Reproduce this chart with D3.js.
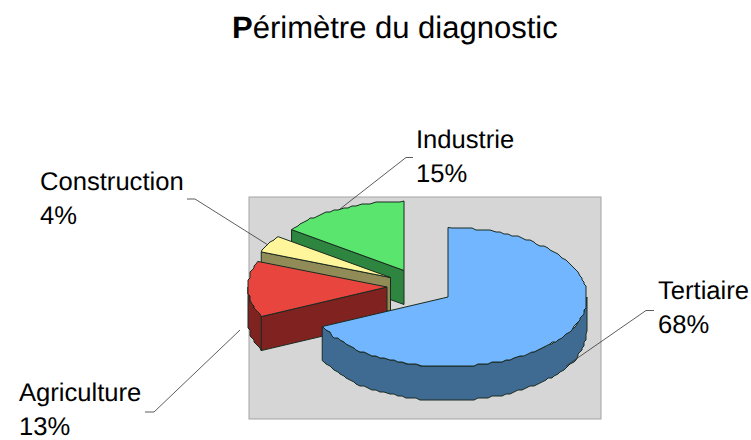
<!DOCTYPE html>
<html><head><meta charset="utf-8">
<script src="https://cdn.jsdelivr.net/npm/d3@7"></script>
<style>html,body{margin:0;background:#fff}svg{display:block}text{font-family:"Liberation Sans",Arial,sans-serif;fill:#000;text-rendering:geometricPrecision}</style>
</head><body><svg id="c" width="751" height="440"></svg>
<script>
const categories = ["Tertiaire","Agriculture","Construction","Industrie"];
const values = [68,13,4,15];
const topColors = ["#72b6ff","#e8453f","#fff59a","#5ae66e"];
const sideColors = ["#3f6b93","#802220","#918b57","#2e8540"];
const centers = [[448,297],[387,287],[390.5,277.5],[404,270.5]];
const labelPos = [[658,298.5],[19,400.5],[40,190],[416,148]];
const leaders = [
  [[566,366],[646,310.5],[654,310.5]],
  [[240,330],[154,412],[145,412]],
  [[268,245],[195,199],[187,199]],
  [[340,209],[406,157.5],[413,157.5]]
];
const RX=139, RY=69.5, DEPTH=34;
const svg=d3.select("#c");
const title=svg.append("text").attr("x",232).attr("y",37.5).attr("font-size",31);
title.append("tspan").attr("font-weight","bold").text("P");
title.append("tspan").text("érimètre du diagnostic");
svg.append("rect").attr("x",249).attr("y",197).attr("width",352).attr("height",222)
  .attr("fill","#d6d6d6").attr("stroke","#a3a3a3").attr("stroke-width",1);
const arcs=d3.pie().sort(null).value(d=>d)(values);
const line=d3.line();
const snap=v=>Math.round(v/2)*2;
const sx=d3.scaleLinear().domain([-1,1]).range([-RX,RX]);
const sy=d3.scaleLinear().domain([-1,1]).range([-RY,RY]);
function pt(c,a,dz=0,jag=true){
  const x=c[0]+sx(Math.sin(a)), y=c[1]-sy(Math.cos(a))+dz;
  return jag?[snap(x),snap(y)]:[x,y];
}
function arcPts(c,a0,a1,dz=0){
  const n=Math.max(2,Math.ceil((a1-a0)/0.035)), pts=[];
  d3.range(n+1).forEach(i=>{
    const a=a0+(a1-a0)*i/n;
    pts.push(pt(c,a,dz,i>0&&i<n));
  });
  return pts;
}
const order=[3,2,1,0];
order.forEach(i=>{
  const d=arcs[i], c=centers[i], a0=d.startAngle, a1=d.endAngle;
  const g=svg.append("g").attr("stroke","#1a2a20").attr("stroke-width",1).attr("stroke-linejoin","round");
  const apex=c, apexB=[c[0],c[1]+DEPTH];
  const e0=pt(c,a0,0,false), e0b=[e0[0],e0[1]+DEPTH];
  if(i>0){
    g.append("path").attr("d",line([e0,apex,apexB,e0b])+"Z").attr("fill",sideColors[i]);
  }
  const w0=Math.max(a0,Math.PI/2), w1=Math.min(a1,Math.PI*1.5);
  if(w1>w0){
    const topEdge=arcPts(c,w0,w1), botEdge=arcPts(c,w0,w1,DEPTH).reverse();
    g.append("path").attr("d",line(topEdge.concat(botEdge))+"Z").attr("fill",sideColors[i]);
  }
  const topPts=[apex].concat(arcPts(c,a0,a1));
  g.append("path").attr("d",line(topPts)+"Z").attr("fill",topColors[i]);
});
leaders.forEach(l=>svg.append("path").attr("d",line(l)).attr("fill","none").attr("stroke","#333").attr("stroke-width",.8));
categories.forEach((n,i)=>{
  const t=svg.append("g").attr("font-size",25.6);
  t.append("text").attr("x",labelPos[i][0]).attr("y",labelPos[i][1]).text(n);
  t.append("text").attr("x",labelPos[i][0]).attr("y",labelPos[i][1]+34).text(values[i]+"%");
});
</script></body></html>
